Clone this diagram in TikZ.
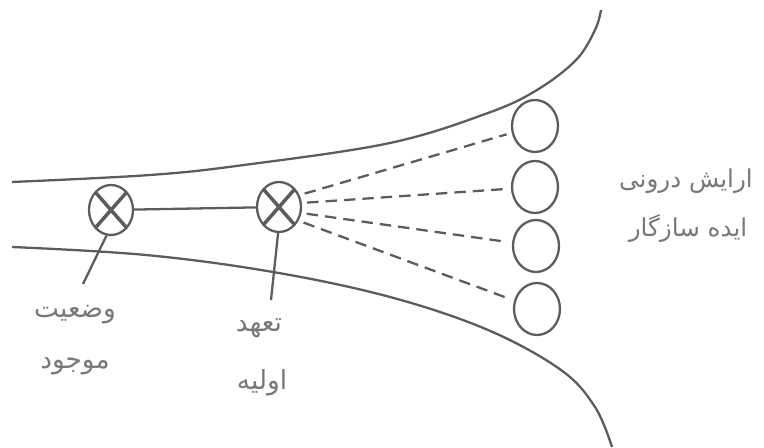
\documentclass[tikz,border=0pt]{standalone}
\usepackage{fontspec}
\newfontfamily\arabicfont[Script=Arabic]{DejaVu Sans}
\TeXXeTstate=1
\usetikzlibrary{positioning, shapes.geometric}
\definecolor{inkgray}{RGB}{92,92,92}
\definecolor{labelgray}{RGB}{120,120,120}

\begin{document}
\begin{tikzpicture}[
    x=0.02cm, y=-0.02cm,
    line/.style={draw=inkgray, line width=1.3pt},
    ring/.style={ellipse, draw=inkgray, line width=1.3pt, inner sep=0pt,
        minimum width=0.92cm, minimum height=1.04cm},
    xring/.style={ring, minimum width=0.88cm, minimum height=1cm,
        path picture={
            \draw[inkgray, line width=2pt]
                (path picture bounding box.north west) -- (path picture bounding box.south east)
                (path picture bounding box.north east) -- (path picture bounding box.south west);
        }},
    fan/.style={line, dash pattern=on 6.5pt off 4pt, shorten <=3pt, shorten >=3pt},
    lbl/.style={font=\arabicfont\fontsize{15}{17}\selectfont, text=labelgray, inner sep=0pt},
    goal/.style={lbl, font=\arabicfont\fontsize{14}{16}\selectfont},
]
\useasboundingbox (0,0) rectangle (764,448);

% the two boundary curves
\draw[line] plot[smooth, tension=0.6] coordinates {(12,182) (150,175) (244,165) (390,143)
    (488,113) (537,90) (576,60) (595,30) (601,10)};
\draw[line] plot[smooth, tension=0.6] coordinates {(12,247) (146,255) (273,272) (390,297)
    (488,330) (561,370) (595,407) (612,447)};

\node[xring] (now)    at (111,210) {};
\node[xring] (commit) at (279,207) {};

\node[ring] (idea1) at (535,126) {};
\node[ring] (idea2) at (535,187) {};
\node[ring] (idea3) at (536,246) {};
\node[ring] (idea4) at (537,309) {};

\draw[line] (now) -- (commit);
\draw[fan] (commit.30)  -- (idea1);
\draw[fan] (commit.10)  -- (idea2);
\draw[fan] (commit.-15) -- (idea3);
\draw[fan] (commit.-35) -- (idea4);

% leaders to the labels
\coordinate (nowend)    at (83,284);
\coordinate (commitend) at (271,300);
\draw[line] (now.-100)    -- (nowend);
\draw[line] (commit.-92)  -- (commitend);

\node[lbl] (now1)    at (75,315)  {\beginR وضعیت\endR};
\node[lbl] (now2)    at (75,366)  {\beginR موجود\endR};
\node[lbl] (commit1) at (259,328) {\beginR تعهد\endR};
\node[lbl] (commit2) at (262,383) {\beginR اولیه\endR};
\node[goal] (goal1)  at (686,181) {\beginR ارایش درونی\endR};
\node[goal] (goal2)  at (688,228) {\beginR ایده سازگار\endR};
\end{tikzpicture}
\end{document}
